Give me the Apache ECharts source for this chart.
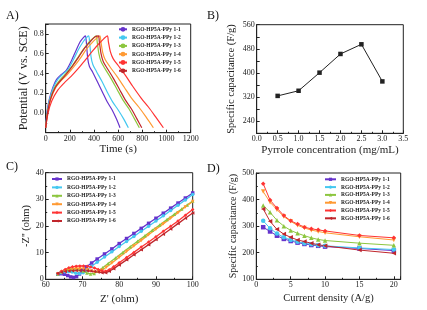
<!DOCTYPE html>
<html>
<head>
<meta charset="utf-8">
<script src="https://cdn.jsdelivr.net/npm/echarts@6/dist/echarts.min.js"></script>
<style>
  html, body { margin: 0; padding: 0; background: #fff; }
  #chart { width: 427px; height: 310px; }
</style>
</head>
<body>
<div id="chart"></div>
<script>
// sample names + colours (shared by A, C, D)
var names = ['RGO-HP5A-PPy 1-1', 'RGO-HP5A-PPy 1-2', 'RGO-HP5A-PPy 1-3',
             'RGO-HP5A-PPy 1-4', 'RGO-HP5A-PPy 1-5', 'RGO-HP5A-PPy 1-6']
var colors = ['#6633cc', '#44c8f0', '#8cc63f', '#ff9a33', '#ff3333', '#c0262c']

// A) GCD curves: [time (s), potential (V)]
var gcd11 = [[0,-0.15],[10,0.0],[30,0.14],[60,0.26],[90,0.34],[130,0.39],[170,0.43],[210,0.52],[250,0.63],[285,0.72],[310,0.76],[328,0.78],[336,0.72],[348,0.55],[362,0.47],[390,0.41],[430,0.31],[470,0.21],[510,0.11],[550,0.03],[585,-0.06],[615,-0.15]]
var gcd12 = [[0,-0.15],[12,0.0],[33,0.14],[65,0.26],[100,0.34],[140,0.39],[185,0.44],[230,0.54],[270,0.64],[310,0.72],[335,0.76],[355,0.78],[363,0.72],[375,0.57],[390,0.49],[420,0.42],[465,0.32],[510,0.21],[555,0.11],[600,0.03],[645,-0.06],[684,-0.15]]
var gcd13 = [[0,-0.15],[14,0.0],[38,0.14],[75,0.26],[115,0.33],[160,0.39],[210,0.46],[260,0.55],[310,0.64],[360,0.72],[395,0.76],[418,0.78],[426,0.72],[440,0.60],[458,0.52],[490,0.45],[540,0.35],[590,0.24],[640,0.13],[690,0.04],[735,-0.06],[775,-0.15]]
var gcd14 = [[0,-0.15],[16,0.0],[42,0.14],[85,0.26],[130,0.33],[180,0.39],[235,0.47],[290,0.56],[340,0.65],[390,0.72],[425,0.76],[448,0.78],[457,0.72],[472,0.61],[492,0.54],[530,0.47],[590,0.37],[650,0.26],[710,0.15],[770,0.06],[830,-0.04],[891,-0.15]]
var gcd15 = [[0,-0.15],[20,0.0],[50,0.12],[100,0.23],[150,0.30],[210,0.37],[270,0.45],[330,0.54],[390,0.63],[440,0.70],[480,0.75],[510,0.78],[519,0.72],[535,0.62],[558,0.55],[600,0.48],[660,0.38],[720,0.27],[790,0.15],[850,0.06],[910,-0.04],[974,-0.15]]
var gcd16 = [[0,-0.15],[15,0.0],[40,0.14],[80,0.26],[125,0.33],[175,0.40],[225,0.48],[275,0.57],[325,0.66],[375,0.73],[410,0.77],[436,0.78],[444,0.72],[458,0.60],[476,0.52],[510,0.45],[560,0.35],[610,0.24],[660,0.13],[710,0.04],[755,-0.06],[795,-0.15]]

// B) capacitance vs pyrrole concentration
var concentration = [0.5, 1.0, 1.5, 2.0, 2.5, 3.0]
var capB = [324, 341, 401, 463, 495, 372]

// C) Nyquist: [Z', -Z'']
var eis11 = [[63.3,1.9],[64.2,2.1],[65.1,1.9],[66,1.4],[66.8,0.9],[67.6,0.7],[68.4,1.0],[69.2,2.0],[70,3.3],[71,4.6],[72.5,6.1],[74,7.6],[76,9.5],[78,11.4],[80,13.4],[82,15.3],[84,17.2],[86,19.1],[88,21.0],[90,22.9],[92,24.8],[94,26.7],[96,28.6],[98,30.5],[100,32.4]]
var eis12 = [[63.3,2.0],[64.2,2.5],[65.2,2.8],[66.2,2.9],[67.2,2.7],[68.2,2.3],[69.2,2.1],[70.2,2.5],[71.2,3.5],[72.5,4.9],[74,6.4],[76,8.4],[78,10.3],[80,12.3],[82,14.2],[84,16.1],[86,18.0],[88,19.9],[90,21.9],[92,23.8],[94,25.8],[96,27.8],[98,29.8],[100,31.8]]
var eis13 = [[63.3,2.0],[64.2,2.8],[65.2,3.4],[66.2,3.8],[67.2,4.0],[68.2,4.0],[69.2,3.7],[70.2,3.1],[71.2,2.4],[72.2,2.0],[73.2,2.2],[74.2,3.0],[75.5,4.3],[77,5.9],[79,8.0],[81,10.1],[83,12.2],[85,14.3],[87,16.3],[89,18.4],[91,20.4],[93,22.4],[95,24.4],[97,26.4],[98.5,27.9],[100,29.4]]
var eis14 = [[63.3,2.0],[64.3,2.6],[65.3,3.1],[66.3,3.5],[67.3,3.8],[68.3,4.0],[69.3,4.0],[70.3,3.9],[71.3,3.6],[72.3,3.1],[73.3,2.7],[74.3,2.7],[75.3,3.4],[76.5,4.5],[78,6.1],[80,8.3],[82,10.4],[84,12.5],[86,14.6],[88,16.7],[90,18.8],[92,20.8],[94,22.9],[96,25.0],[98,27.1],[100,29.2]]
var eis15 = [[63.3,2.2],[64.3,3.0],[65.3,3.7],[66.3,4.3],[67.3,4.7],[68.3,4.9],[69.3,5.0],[70.3,5.0],[71.3,4.9],[72.3,4.6],[73.3,4.2],[74.3,3.7],[75.3,3.2],[76.3,3.0],[77.3,3.6],[78.5,4.7],[80,6.2],[82,8.2],[84,10.1],[86,12.1],[88,14.0],[90,16.0],[92,18.0],[94,19.9],[96,21.9],[98,24.0],[100,26.2]]
var eis16 = [[63.3,2.3],[64.3,2.6],[65.3,2.9],[66.3,3.1],[67.3,3.2],[68.3,3.3],[69.3,3.3],[70.3,3.3],[71.3,3.2],[72.3,3.1],[73.3,2.9],[74.3,2.7],[75.3,2.5],[76.3,2.5],[77.3,3.0],[78.5,4.0],[80,5.4],[82,7.3],[84,9.2],[86,11.1],[88,13.0],[90,14.9],[92,16.9],[94,18.9],[96,20.9],[98,22.9],[100,24.9]]

// D) rate capability
var currentDensity = [1, 2, 3, 4, 5, 6, 7, 8, 9, 10, 15, 20]
var capD11 = [296, 280, 264, 252, 244, 238, 233, 229, 226, 223, 216, 208]
var capD12 = [320, 292, 272, 258, 248, 241, 236, 232, 228, 226, 218, 212]
var capD13 = [378, 352, 322, 300, 284, 273, 264, 256, 250, 246, 236, 228]
var capD14 = [430, 390, 362, 336, 318, 303, 293, 285, 280, 275, 260, 248]
var capD15 = [460, 398, 368, 340, 320, 308, 296, 290, 286, 282, 265, 256]
var capD16 = [365, 318, 288, 270, 258, 248, 242, 236, 230, 226, 210, 198]

var FONT = '"Liberation Serif", "Times New Roman", serif'
var INK = '#222'

function plain(v) { return String(v) }

function axisBase(extra) {
  var base = {
    axisLine: { show: true, onZero: false, lineStyle: { color: INK, width: 1 } },
    axisTick: { show: true, inside: true, length: 3, lineStyle: { color: INK } },
    minorTick: { show: true, splitNumber: 2, length: 1.5, lineStyle: { color: INK } },
    axisLabel: { fontFamily: FONT, fontSize: 8, color: INK, margin: 2, formatter: plain },
    splitLine: { show: false },
    nameLocation: 'middle',
    nameTextStyle: { fontFamily: FONT, color: INK }
  }
  return Object.assign(base, extra)
}

function legendFor(left, top, gap, iconW, iconH, names) {
  return {
    orient: 'vertical', left: left, top: top, padding: 0,
    itemWidth: iconW, itemHeight: iconH, itemGap: gap,
    selectedMode: false,
    data: names,
    formatter: function (n) { return n.trim() },
    textStyle: { fontFamily: FONT, fontSize: 5.5, fontWeight: 'bold', color: INK, lineHeight: 6 }
  }
}

// names per panel get trailing spaces so each legend takes icons from its own panel
var namesA = names
var namesC = names.map(function (n) { return n + ' ' })
var namesD = names.map(function (n) { return n + '  ' })
var gcdData = [gcd11, gcd12, gcd13, gcd14, gcd15, gcd16]
var eisData = [eis11, eis12, eis13, eis14, eis15, eis16]
var capDData = [capD11, capD12, capD13, capD14, capD15, capD16]
var symbolsD = ['rect', 'circle', 'triangle', 'path://M0,0L10,0L5,9Z', 'diamond', 'path://M0,5L9,0L9,10Z']

var series = []
gcdData.forEach(function (d, i) {
  series.push({ name: namesA[i], type: 'line', xAxisIndex: 0, yAxisIndex: 0, data: d,
    symbol: 'none', smooth: 0.3, lineStyle: { width: 1.2, color: colors[i] }, itemStyle: { color: colors[i] } })
})
series.push({ name: 'B', type: 'line', xAxisIndex: 1, yAxisIndex: 1,
  data: concentration.map(function (c, i) { return [c, capB[i]] }),
  symbol: 'rect', symbolSize: 4.5, lineStyle: { width: 1, color: INK }, itemStyle: { color: INK } })
eisData.forEach(function (d, i) {
  series.push({ name: namesC[i], type: 'line', xAxisIndex: 2, yAxisIndex: 2, data: d,
    symbol: symbolsD[i], symbolSize: 3.5, lineStyle: { width: 1.3, color: colors[i] }, itemStyle: { color: colors[i] } })
})
capDData.forEach(function (d, i) {
  series.push({ name: namesD[i], type: 'line', xAxisIndex: 3, yAxisIndex: 3,
    data: currentDensity.map(function (x, j) { return [x, d[j]] }),
    symbol: symbolsD[i], symbolSize: 4.5, lineStyle: { width: 1, color: colors[i] }, itemStyle: { color: colors[i] } })
})

var gridStyle = { show: true, borderColor: INK, borderWidth: 1, containLabel: false, outerBoundsMode: 'none' }
var labelStyle = { fontFamily: FONT, fontSize: 12, fontWeight: 'normal', color: '#111' }

var option = {
  backgroundColor: '#fff',
  animation: false,
  title: [
    { text: 'A)', left: 6, top: 10, padding: 0, textStyle: labelStyle },
    { text: 'B)', left: 207, top: 10, padding: 0, textStyle: labelStyle },
    { text: 'C)', left: 6, top: 161, padding: 0, textStyle: labelStyle },
    { text: 'D)', left: 207, top: 163, padding: 0, textStyle: labelStyle }
  ],
  grid: [
    Object.assign({ left: 45.7, top: 24, width: 145, height: 108.7 }, gridStyle),
    Object.assign({ left: 256.7, top: 24.7, width: 146.6, height: 108.6 }, gridStyle),
    Object.assign({ left: 45.7, top: 172.7, width: 147, height: 106.6 }, gridStyle),
    Object.assign({ left: 256.3, top: 173, width: 144.4, height: 106.3 }, gridStyle)
  ],
  legend: [
    legendFor(118, 26.3, 2.3, 8, 6, namesA),
    legendFor(51, 176, 2.4, 10, 4, namesC),
    legendFor(324, 176.3, 1.8, 11, 4, namesD)
  ],
  xAxis: [
    axisBase({ gridIndex: 0, type: 'value', min: 0, max: 1200, interval: 200,
      name: 'Time (s)', nameGap: 7, nameTextStyle: { fontFamily: FONT, color: INK, fontSize: 11 } }),
    axisBase({ gridIndex: 1, type: 'value', min: 0, max: 3.5, interval: 0.5,
      axisLabel: { fontFamily: FONT, fontSize: 8, color: INK, margin: 2, formatter: function (v) { return v.toFixed(1) } },
      name: 'Pyrrole concentration (mg/mL)', nameGap: 8.5, nameTextStyle: { fontFamily: FONT, color: INK, fontSize: 11 } }),
    axisBase({ gridIndex: 2, type: 'value', min: 60, max: 100, interval: 10,
      name: "Z' (ohm)", nameGap: 14, nameTextStyle: { fontFamily: FONT, color: INK, fontSize: 11 } }),
    axisBase({ gridIndex: 3, type: 'value', min: 0, max: 21, interval: 5,
      axisLabel: { fontFamily: FONT, fontSize: 8, color: INK, margin: 2, formatter: function (v) { return v % 5 === 0 ? String(v) : '' } },
      name: 'Current density (A/g)', nameGap: 13, nameTextStyle: { fontFamily: FONT, color: INK, fontSize: 10.5 } })
  ],
  yAxis: [
    axisBase({ gridIndex: 0, type: 'value', min: -0.2, max: 0.9, interval: 0.2,
      axisLabel: { fontFamily: FONT, fontSize: 8, color: INK, margin: 2, formatter: function (v) {
        if (v < -0.05 || v > 0.85) return ''
        return Math.abs(v) < 1e-9 ? '0.0' : v.toFixed(1)
      } },
      name: 'Potential (V vs. SCE)', nameGap: 16, nameTextStyle: { fontFamily: FONT, color: INK, fontSize: 12 } }),
    axisBase({ gridIndex: 1, type: 'value', min: 200, max: 560, interval: 40,
      minorTick: { show: false },
      axisLabel: { fontFamily: FONT, fontSize: 8, color: INK, margin: 2, formatter: function (v) { return (v % 80 === 0 && v >= 240) ? String(v) : '' } },
      name: 'Specific capacitance (F/g)', nameGap: 19.5, nameTextStyle: { fontFamily: FONT, color: INK, fontSize: 10.5 } }),
    axisBase({ gridIndex: 2, type: 'value', min: 0, max: 40, interval: 10,
      name: "-Z'' (ohm)", nameGap: 11.5, nameTextStyle: { fontFamily: FONT, color: INK, fontSize: 10.5 } }),
    axisBase({ gridIndex: 3, type: 'value', min: 100, max: 500, interval: 100,
      name: 'Specific capacitance (F/g)', nameGap: 16.5, nameTextStyle: { fontFamily: FONT, color: INK, fontSize: 10 } })
  ],
  series: series
}

var chart = echarts.init(document.getElementById('chart'), null, { renderer: 'canvas' })
chart.setOption(option)
</script>
</body>
</html>
